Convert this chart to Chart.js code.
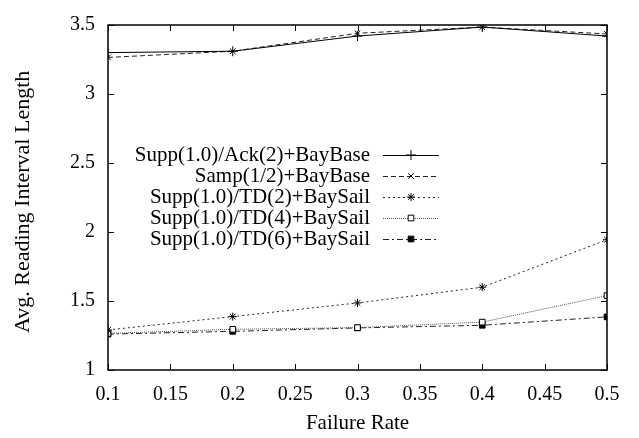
<!DOCTYPE html>
<html>
<head>
<meta charset="utf-8">
<script src="https://cdn.jsdelivr.net/npm/chart.js@4/dist/chart.umd.min.js"></script>
<style>
  html, body { margin: 0; padding: 0; background: #fff; }
  #wrap { width: 639px; height: 438px; position: relative; }
</style>
</head>
<body>
<div id="wrap"><canvas id="chartFalhas"></canvas></div>
<script>
// --- dados ---
const taxasFalha = [0.1, 0.2, 0.3, 0.4, 0.5];
const nomesSeries = [
  'Supp(1.0)/Ack(2)+BayBase',
  'Samp(1/2)+BayBase',
  'Supp(1.0)/TD(2)+BaySail',
  'Supp(1.0)/TD(4)+BaySail',
  'Supp(1.0)/TD(6)+BaySail'
];
const ackBase  = [3.30, 3.31, 3.42, 3.485, 3.42];
const sampBase = [3.265, 3.31, 3.44, 3.485, 3.435];
const td2Sail  = [1.29, 1.387, 1.486, 1.60, 1.944];
const td4Sail  = [1.265, 1.295, 1.307, 1.347, 1.539];
const td6Sail  = [1.26, 1.28, 1.305, 1.324, 1.385];
const xTicks = [0.1, 0.15, 0.2, 0.25, 0.3, 0.35, 0.4, 0.45, 0.5];
const yTicks = [1, 1.5, 2, 2.5, 3, 3.5];
const tituloY = 'Avg. Reading Interval Length';

const FONTE = 'Liberation Serif, Times New Roman, serif';
const pontos = arr => arr.map((v, i) => ({ x: taxasFalha[i], y: v }));

// estilo de cada serie (gnuplot-like)
const estilos = [
  { cor: '#000', dash: [],           ponto: 'cross',    fill: '#000', raio: 5 },
  { cor: '#222', dash: [5, 3],       ponto: 'crossRot', fill: '#000', raio: 4 },
  { cor: '#222', dash: [2, 3],       ponto: 'star',     fill: '#000', raio: 4 },
  { cor: '#555', dash: [1, 1],       ponto: 'rect',     fill: '#fff', raio: 4 },
  { cor: '#222', dash: [6, 3, 2, 3], ponto: 'rect',     fill: '#000', raio: 4 }
];
const valores = [ackBase, sampBase, td2Sail, td4Sail, td6Sail];

const datasets = valores.map((v, i) => ({
  label: nomesSeries[i],
  data: pontos(v),
  borderColor: estilos[i].cor,
  borderWidth: 1,
  borderDash: estilos[i].dash,
  pointStyle: estilos[i].ponto,
  pointRadius: estilos[i].raio,
  pointBorderColor: '#000',
  pointBackgroundColor: estilos[i].fill,
  pointBorderWidth: 1,
  tension: 0,
  fill: false
}));

// moldura + ticks para dentro + titulo do eixo y
const molduraPlugin = {
  id: 'moldura',
  afterDraw(chart){
    const { ctx, chartArea: a, scales } = chart;
    ctx.save();
    ctx.strokeStyle = '#000';
    ctx.lineWidth = 1;
    ctx.beginPath();
    xTicks.forEach(t => {
      const px = Math.round(scales.x.getPixelForValue(t)) + 0.5;
      ctx.moveTo(px, a.bottom); ctx.lineTo(px, a.bottom - 6);
      ctx.moveTo(px, a.top); ctx.lineTo(px, a.top + 6);
    });
    yTicks.forEach(t => {
      const py = Math.round(scales.y.getPixelForValue(t)) + 0.5;
      ctx.moveTo(a.left, py); ctx.lineTo(a.left + 6, py);
      ctx.moveTo(a.right, py); ctx.lineTo(a.right - 6, py);
    });
    ctx.stroke();
    ctx.lineWidth = 1.5;
    ctx.strokeRect(a.left, a.top, a.right - a.left, a.bottom - a.top);

    // titulo y (gnuplot deixa um pouco abaixo do centro)
    ctx.translate(23, 333);
    ctx.rotate(-Math.PI / 2);
    ctx.font = '22px ' + FONTE;
    ctx.fillStyle = '#000';
    ctx.textAlign = 'left';
    ctx.textBaseline = 'middle';
    ctx.fillText(tituloY, 0, 0);
    ctx.restore();
  }
};

// legenda estilo gnuplot: texto a direita alinhado, amostra depois
const legendaPlugin = {
  id: 'legendaGnu',
  afterDraw(chart){
    const { ctx } = chart;
    const xTexto = 370, xIni = 383, xFim = 439, y0 = 155, passo = 21;
    ctx.save();
    ctx.font = '21px ' + FONTE;
    ctx.fillStyle = '#000';
    ctx.textAlign = 'right';
    ctx.textBaseline = 'middle';
    chart.data.datasets.forEach((ds, i) => {
      const y = y0 + i * passo;
      ctx.fillText(ds.label, xTexto, y);
      ctx.save();
      ctx.strokeStyle = ds.borderColor;
      ctx.lineWidth = 1;
      ctx.setLineDash(ds.borderDash);
      ctx.beginPath();
      ctx.moveTo(xIni, y + 0.5); ctx.lineTo(xFim, y + 0.5);
      ctx.stroke();
      ctx.restore();
      ctx.save();
      ctx.strokeStyle = '#000';
      ctx.fillStyle = ds.pointBackgroundColor;
      ctx.lineWidth = 1;
      Chart.helpers.drawPoint(ctx, { pointStyle: ds.pointStyle, radius: ds.pointRadius, rotation: 0, borderWidth: 1 }, (xIni + xFim) / 2, y);
      ctx.restore();
    });
    ctx.restore();
  }
};

new Chart(document.getElementById('chartFalhas'), {
  type: 'line',
  data: { datasets },
  plugins: [molduraPlugin, legendaPlugin],
  options: {
    responsive: true, maintainAspectRatio: false, animation: false,
    layout: { padding: { top: 11, right: 32, left: 0, bottom: 0 } },
    plugins: { legend: { display: false }, tooltip: { enabled: false } },
    scales: {
      x: {
        type: 'linear', min: 0.1, max: 0.5,
        afterBuildTicks: s => { s.ticks = xTicks.map(v => ({ value: v })); },
        afterFit: s => { s.height = 68; },
        grid: { display: false, drawTicks: false }, border: { display: false },
        ticks: { color: '#000', padding: 13, maxRotation: 0, autoSkip: false,
                 font: { family: FONTE, size: 20 }, callback: v => String(parseFloat(v.toFixed(2))) },
        title: { display: true, text: 'Failure Rate', color: '#000',
                 font: { family: FONTE, size: 21 }, padding: { top: 0, bottom: 2 } }
      },
      y: {
        min: 1, max: 3.5,
        afterBuildTicks: s => { s.ticks = yTicks.map(v => ({ value: v })); },
        afterFit: s => { s.width = 108; },
        grid: { display: false, drawTicks: false }, border: { display: false },
        ticks: { color: '#000', padding: 13,
                 font: { family: FONTE, size: 20 }, callback: v => String(parseFloat(v.toFixed(2))) }
      }
    }
  }
});
</script>
</body>
</html>
